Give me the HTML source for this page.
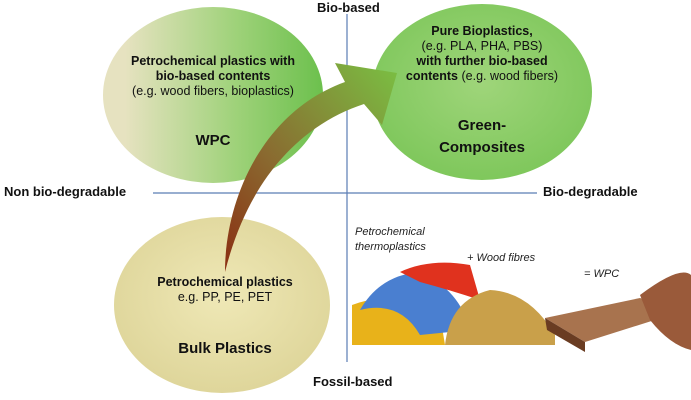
<!DOCTYPE html>
<html><head><meta charset="utf-8"><style>
body{margin:0;width:691px;height:400px;background:#fff;overflow:hidden;position:relative;font-family:"Liberation Sans",sans-serif;}
.t{position:absolute;text-align:center;color:#111;font-size:12.5px;line-height:15px;white-space:nowrap}
.b{font-weight:bold}
.ax{position:absolute;font-weight:bold;font-size:13px;color:#111;white-space:nowrap}
.i{position:absolute;font-style:italic;font-size:11px;color:#222;white-space:nowrap}
</style></head><body>
<svg width="691" height="400" style="position:absolute;left:0;top:0">
<defs>
<linearGradient id="g1" x1="0" x2="1" y1="0" y2="0"><stop offset="0.1" stop-color="#e6e2c0"/><stop offset="0.6" stop-color="#9fd27a"/><stop offset="1" stop-color="#6cc04d"/></linearGradient>
<radialGradient id="g2" cx="0.5" cy="0.45" r="0.6"><stop offset="0" stop-color="#9fd57a"/><stop offset="1" stop-color="#7cc659"/></radialGradient>
<radialGradient id="g3" cx="0.5" cy="0.45" r="0.6"><stop offset="0" stop-color="#efe8b6"/><stop offset="1" stop-color="#ddd498"/></radialGradient>
<linearGradient id="ar" x1="0" y1="1" x2="1" y2="0"><stop offset="0" stop-color="#8a2e12"/><stop offset="0.4" stop-color="#8a6a30"/><stop offset="1" stop-color="#7ac043"/></linearGradient>
</defs>
<ellipse cx="213" cy="95" rx="110" ry="88" fill="url(#g1)"/>
<ellipse cx="482" cy="92" rx="110" ry="88" fill="url(#g2)"/>
<ellipse cx="222" cy="305" rx="108" ry="88" fill="url(#g3)"/>
<line x1="347" y1="14" x2="347" y2="362" stroke="#5b7db5" stroke-width="1.2"/>
<line x1="153" y1="193" x2="537" y2="193" stroke="#5b7db5" stroke-width="1.2"/>
<path d="M225 272 C225 200 262 112 345 82 L335 63 L397 73 L382 125 L364 104 C300 125 248 180 225 272 Z" fill="url(#ar)"/>
<!-- images -->
<path d="M352 345 L352 305 Q390 290 440 315 L445 345 Z" fill="#e8b21a"/>
<path d="M360 310 Q380 275 420 272 Q460 290 470 330 L420 335 Q400 300 360 310 Z" fill="#4a7fd0"/>
<path d="M400 272 Q430 258 470 265 L480 300 Q450 290 420 282 Z" fill="#e0321e"/>
<path d="M445 345 Q450 300 490 290 Q530 292 555 335 L555 345 Z" fill="#c9a04a"/>
<polygon points="545,318 640,298 680,312 585,342" fill="#a8734e"/>
<polygon points="545,318 585,342 585,352 547,330" fill="#6a3c22"/>
<path d="M640 295 Q680 265 691 275 L691 350 Q670 345 650 320 Z" fill="#9a5a3a"/>
</svg>
<div class="ax" style="left:317px;top:0">Bio-based</div>
<div class="ax" style="left:4px;top:184px">Non bio-degradable</div>
<div class="ax" style="left:543px;top:184px">Bio-degradable</div>
<div class="ax" style="left:313px;top:374px">Fossil-based</div>
<div class="t" style="left:113px;top:54px;width:200px"><span class="b">Petrochemical plastics with<br>bio-based contents</span><br>(e.g. wood fibers, bioplastics)</div>
<div class="t b" style="left:183px;top:133px;width:60px;font-size:15px">WPC</div>
<div class="t" style="left:392px;top:24px;width:180px"><span class="b">Pure Bioplastics,</span><br>(e.g. PLA, PHA, PBS)<br><span class="b">with further bio-based<br>contents</span> (e.g. wood fibers)</div>
<div class="t b" style="left:432px;top:115px;width:100px;font-size:15px;line-height:22px">Green-<br>Composites</div>
<div class="t" style="left:140px;top:275px;width:170px"><span class="b">Petrochemical plastics</span><br>e.g. PP, PE, PET</div>
<div class="t b" style="left:165px;top:341px;width:120px;font-size:15px">Bulk Plastics</div>
<div class="i" style="left:355px;top:225px;line-height:15px">Petrochemical<br>thermoplastics</div>
<div class="i" style="left:467px;top:252px">+ Wood fibres</div>
<div class="i" style="left:584px;top:268px">= WPC</div>
</body></html>
